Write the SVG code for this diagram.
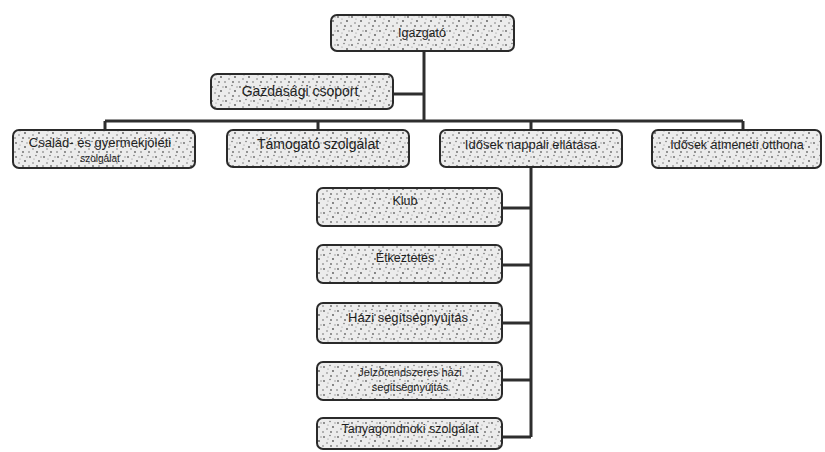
<svg xmlns="http://www.w3.org/2000/svg" width="825" height="452" viewBox="0 0 825 452">
<style>
.box{fill:url(#stip);stroke:#2a2a2a;stroke-width:2}
.t{font-family:"Liberation Sans",Arial,sans-serif;font-size:12.5px;fill:#1e1e1e;text-anchor:middle}
.s{font-size:11px}
.m{font-size:13px}
.l{font-size:14px}
.xs{font-size:10px}
.ln{stroke:#2e2e2e;stroke-width:3;fill:none}
</style>
<defs>
<pattern id="stip" width="14" height="14" patternUnits="userSpaceOnUse">
<rect width="14" height="14" fill="#ececec"/>
<circle cx="2" cy="3" r="0.9" fill="#666"/>
<circle cx="8" cy="1.5" r="0.8" fill="#777"/>
<circle cx="11" cy="7" r="0.9" fill="#555"/>
<circle cx="5" cy="9" r="0.8" fill="#777"/>
<circle cx="1" cy="12" r="0.8" fill="#666"/>
<circle cx="9" cy="12" r="0.9" fill="#666"/>
<circle cx="13" cy="3" r="0.7" fill="#888"/>
<circle cx="6" cy="5" r="0.6" fill="#888"/>
</pattern>
</defs>
<rect width="825" height="452" fill="#ffffff"/>
<g id="connectors">
<path class="ln" d="M424 51 V121"/>
<path class="ln" d="M393 94 H424"/>
<path class="ln" d="M105 121 H743"/>
<path class="ln" d="M105 121 V130"/>
<path class="ln" d="M318 121 V130"/>
<path class="ln" d="M531 121 V130"/>
<path class="ln" d="M743 121 V130"/>
<path class="ln" d="M531 167 V437"/>
<path class="ln" d="M502 208 H531"/>
<path class="ln" d="M502 265 H531"/>
<path class="ln" d="M502 323 H531"/>
<path class="ln" d="M502 380 H531"/>
<path class="ln" d="M502 437 H531"/>
</g>
<g id="igazgato"><rect class="box" x="331" y="15" width="183" height="36" rx="6"/><text class="t" x="422" y="37">Igazgató</text></g>
<g id="gazdasagi"><rect class="box" x="211" y="74" width="182" height="35" rx="6"/><text class="t l" x="300" y="96">Gazdasági csoport</text></g>
<g id="csaladsegito"><rect class="box" x="13" y="130" width="182" height="38" rx="6"/><text class="t m" x="100" y="147">Család- és gyermekjóléti</text><text class="t xs" x="100" y="162">szolgálat</text></g>
<g id="tamogato"><rect class="box" x="227" y="130" width="182" height="37" rx="6"/><text class="t l" x="318" y="149">Támogató szolgálat</text></g>
<g id="napali"><rect class="box" x="440" y="130" width="182" height="37" rx="6"/><text class="t m" x="531" y="149">Idősek nappali ellátása</text></g>
<g id="atmeneti"><rect class="box" x="652" y="130" width="169" height="38" rx="6"/><text class="t" x="737" y="149">Idősek átmeneti otthona</text></g>
<g id="klub"><rect class="box" x="317" y="188" width="185" height="38" rx="6"/><text class="t" x="405" y="205">Klub</text></g>
<g id="etkeztetes"><rect class="box" x="317" y="245" width="185" height="38" rx="6"/><text class="t" x="405" y="262">Étkeztetés</text></g>
<g id="hazi"><rect class="box" x="317" y="303" width="185" height="40" rx="6"/><text class="t m" x="408" y="322">Házi segítségnyújtás</text></g>
<g id="jelzo"><rect class="box" x="317" y="362" width="185" height="38" rx="6"/><text class="t s" x="410" y="376">Jelzőrendszeres házi</text><text class="t s" x="410" y="391">segítségnyújtás</text></g>
<g id="tanya"><rect class="box" x="317" y="418" width="185" height="31" rx="6"/><text class="t" x="410" y="433">Tanyagondnoki szolgálat</text></g>
</svg>
